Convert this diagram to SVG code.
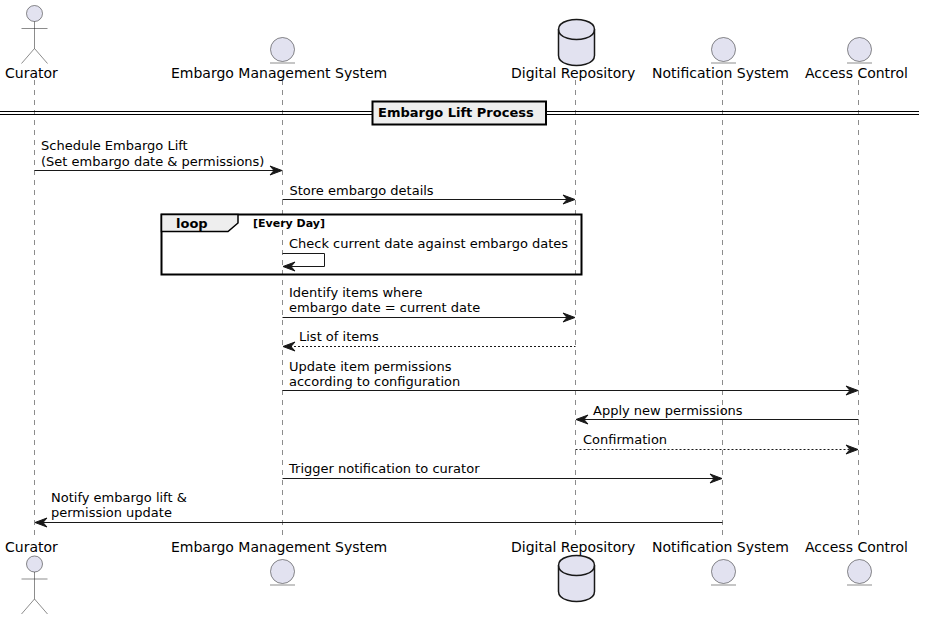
<svg xmlns="http://www.w3.org/2000/svg" width="925" height="620" viewBox="0 0 925 620">
<style>
text{font-family:"DejaVu Sans",sans-serif;fill:#000}
.p{font-size:14px}
.m{font-size:13px}
.life{stroke:#181818;stroke-width:.5;stroke-dasharray:5,5;fill:none}
.act{fill:#E2E2F0;stroke:#181818;stroke-width:.5}
.db{fill:#E2E2F0;stroke:#181818;stroke-width:1.5}
.a{stroke:#181818;stroke-width:1;fill:none}
.d{stroke-dasharray:2,2}
.h{fill:#181818;stroke:#181818}
</style>
<defs>
<g id="entity"><circle class="act" cx="0" cy="0" r="12"/><line class="act" x1="-12.5" y1="13.5" x2="12.5" y2="13.5"/></g>
<g id="actor"><circle class="act" cx="0" cy="0" r="8"/><path class="act" style="fill:none" d="M0,8V35M-13,15H13M0,35L-13,50M0,35L13,50"/></g>
<g id="cyl"><path class="db" d="M-18,10C-18,0 0,0 0,0C0,0 18,0 18,10V36C18,46 0,46 0,46C0,46 -18,46 -18,36Z"/><path class="db" style="fill:none" d="M-18,10C-18,20 0,20 0,20C0,20 18,20 18,10"/></g>
<path id="hr" class="h" d="M0,0L-12,-4.5L-8,0L-12,4.5Z"/>
<path id="hl" class="h" d="M0,0L12,-4.5L8,0L12,4.5Z"/>
</defs>
<g id="lifelines">
<line class="life" x1="34.5" y1="80" x2="34.5" y2="538"/>
<line class="life" x1="282.5" y1="80" x2="282.5" y2="538"/>
<line class="life" x1="575.5" y1="80" x2="575.5" y2="538"/>
<line class="life" x1="722.5" y1="80" x2="722.5" y2="538"/>
<line class="life" x1="858.5" y1="80" x2="858.5" y2="538"/>
</g>
<g id="curator"><use href="#actor" x="34.5" y="13.5"/><text class="p" x="5" y="78">Curator</text><text class="p" x="5" y="552">Curator</text><use href="#actor" x="34.5" y="564"/></g>
<g id="ems"><use href="#entity" x="282.5" y="49.5"/><text class="p" x="171" y="78">Embargo Management System</text><text class="p" x="171" y="552">Embargo Management System</text><use href="#entity" x="282.5" y="571.5"/></g>
<g id="repo"><use href="#cyl" x="576.5" y="19.5"/><text class="p" x="511" y="78">Digital Repository</text><text class="p" x="511" y="552">Digital Repository</text><use href="#cyl" x="576.5" y="555.5"/></g>
<g id="notif"><use href="#entity" x="723.5" y="49.5"/><text class="p" x="652" y="78">Notification System</text><text class="p" x="652" y="552">Notification System</text><use href="#entity" x="723.5" y="571.5"/></g>
<g id="access"><use href="#entity" x="859.5" y="49.5"/><text class="p" x="805" y="78">Access Control</text><text class="p" x="805" y="552">Access Control</text><use href="#entity" x="859.5" y="571.5"/></g>
<g id="divider">
<line x1="0" y1="111.5" x2="919" y2="111.5" stroke="#000" stroke-width="1"/>
<line x1="0" y1="114.5" x2="919" y2="114.5" stroke="#000" stroke-width="1"/>
<rect x="372.5" y="101.5" width="173.5" height="23" fill="#EEEEEE" stroke="#000" stroke-width="2"/>
<text x="378" y="117" font-size="13" font-weight="700">Embargo Lift Process</text>
</g>
<g id="loop">
<rect x="161.5" y="214.5" width="420" height="60" fill="none" stroke="#000" stroke-width="2"/>
<path d="M161.5,214.5H238V223L228,231.5H161.5Z" fill="#EEEEEE" stroke="#000" stroke-width="1.5"/>
<text x="176" y="228" font-size="13" font-weight="700">loop</text>
<text x="253" y="227" font-size="11" font-weight="700">[Every Day]</text>
</g>
<g id="connectors">
<line class="a" x1="34.5" y1="170.5" x2="275" y2="170.5"/><use href="#hr" x="282" y="170.5"/>
<line class="a" x1="282.5" y1="199.5" x2="568" y2="199.5"/><use href="#hr" x="575" y="199.5"/>
<path class="a" d="M282.5,253.5H324.5V266.5H290"/><use href="#hl" x="283" y="266.5"/>
<line class="a" x1="282.5" y1="317.5" x2="568" y2="317.5"/><use href="#hr" x="575" y="317.5"/>
<line class="a d" x1="290" y1="346.5" x2="575.5" y2="346.5"/><use href="#hl" x="283" y="346.5"/>
<line class="a" x1="282.5" y1="390.5" x2="851" y2="390.5"/><use href="#hr" x="858" y="390.5"/>
<line class="a" x1="583" y1="419.5" x2="858.5" y2="419.5"/><use href="#hl" x="576" y="419.5"/>
<line class="a d" x1="575.5" y1="449.5" x2="851" y2="449.5"/><use href="#hr" x="858" y="449.5"/>
<line class="a" x1="282.5" y1="478.5" x2="715" y2="478.5"/><use href="#hr" x="722" y="478.5"/>
<line class="a" x1="42" y1="522.5" x2="722.5" y2="522.5"/><use href="#hl" x="35" y="522.5"/>
</g>
<g id="labels">
<text class="m" x="41" y="150">Schedule Embargo Lift</text>
<text class="m" x="41" y="166">(Set embargo date &amp; permissions)</text>
<text class="m" x="289.5" y="195">Store embargo details</text>
<text class="m" x="289" y="248">Check current date against embargo dates</text>
<text class="m" x="289" y="297">Identify items where</text>
<text class="m" x="289" y="312">embargo date = current date</text>
<text class="m" x="299" y="341">List of items</text>
<text class="m" x="289" y="371">Update item permissions</text>
<text class="m" x="289" y="386">according to configuration</text>
<text class="m" x="593" y="415">Apply new permissions</text>
<text class="m" x="583" y="444">Confirmation</text>
<text class="m" x="289" y="473">Trigger notification to curator</text>
<text class="m" x="51" y="502">Notify embargo lift &amp;</text>
<text class="m" x="51" y="517">permission update</text>
</g>
</svg>
